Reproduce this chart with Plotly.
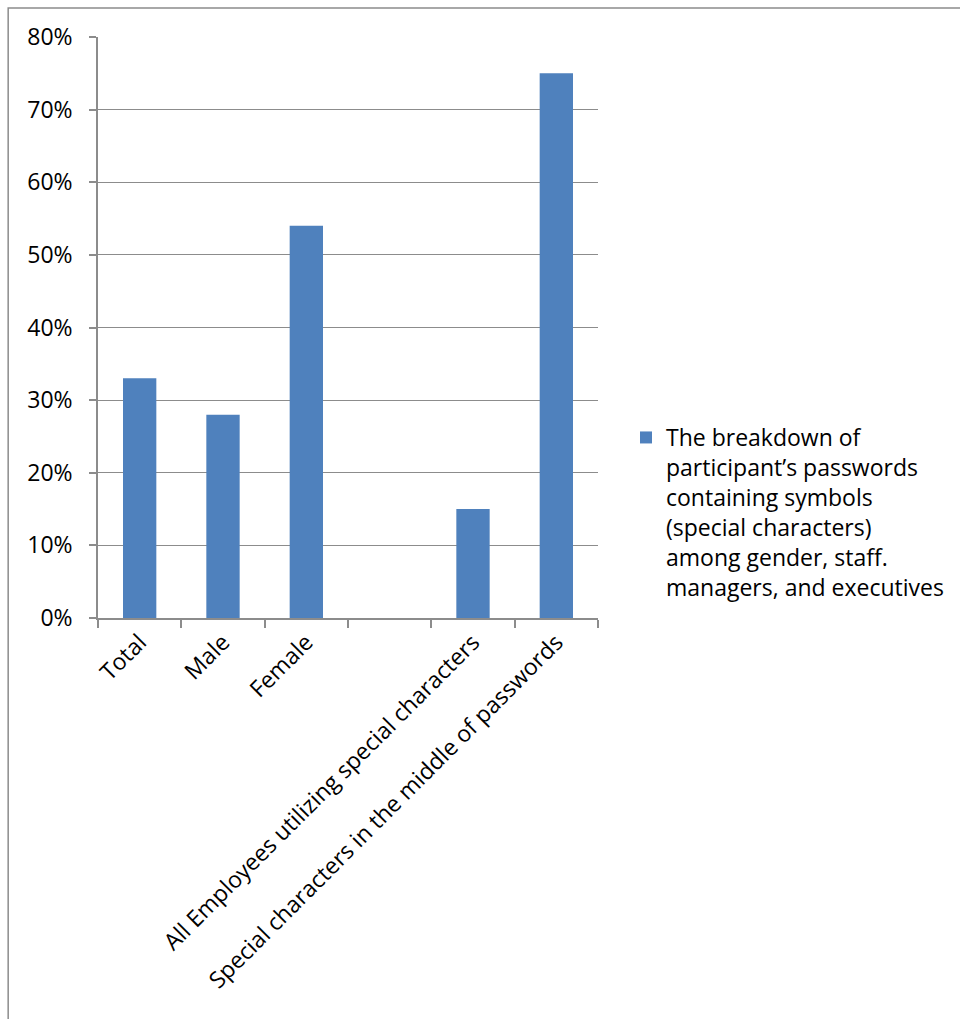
import plotly.graph_objects as go

# Share of passwords containing symbols, by group
categories = [
    "Total",
    "Male",
    "Female",
    " ",
    "All Employees utilizing special characters",
    "Special characters in the middle of passwords",
]
shares = [0.33, 0.28, 0.54, None, 0.15, 0.75]
series_name = ("The breakdown of<br>participant\u2019s passwords<br>containing symbols<br>"
               "(special characters)<br>among gender, staff.<br>managers, and executives")
y_ticks = [0, 0.1, 0.2, 0.3, 0.4, 0.5, 0.6, 0.7, 0.8]

W, H = 960, 1019
L, R, T, B = 98, 599, 37, 618  # plot area in pixels

FONT = "Open Sans"
FS = 23
GRID = "#8c8c8c"

fig = go.Figure(
    go.Bar(
        x=categories,
        y=shares,
        name=series_name,
        marker=dict(color="#4f81bd", line=dict(width=0)),
        showlegend=True,
    )
)

fig.update_layout(
    width=W,
    height=H,
    margin=dict(l=L, r=W - R, t=T, b=H - B, pad=0),
    paper_bgcolor="white",
    plot_bgcolor="white",
    bargap=0.6,
    font=dict(family=FONT, size=FS, color="black"),
    showlegend=True,
    legend=dict(
        x=(626 - L) / (R - L),
        xanchor="left",
        y=(B - 416) / (B - T),
        yanchor="top",
        valign="top",
        font=dict(family=FONT, size=FS, color="black"),
        itemsizing="constant",
        bgcolor="rgba(0,0,0,0)",
    ),
    xaxis=dict(
        type="category",
        categoryorder="array",
        categoryarray=categories,
        tickangle=-45,
        tickson="boundaries",
        ticks="outside",
        ticklen=8,
        tickcolor=GRID,
        tickwidth=1.5,
        showline=True,
        linecolor=GRID,
        linewidth=1.5,
        showgrid=False,
        tickfont=dict(family=FONT, size=FS, color="black"),
    ),
    yaxis=dict(
        range=[0, 0.8],
        tickvals=y_ticks,
        tickformat=".0%",
        ticks="outside",
        ticklen=7,
        tickcolor=GRID,
        tickwidth=1.5,
        showline=True,
        linecolor=GRID,
        linewidth=1.5,
        showgrid=True,
        gridcolor=GRID,
        gridwidth=1,
        zeroline=False,
        ticklabelstandoff=12,
        tickfont=dict(family=FONT, size=FS, color="black"),
    ),
    shapes=[
        # chart frame
        dict(
            type="rect",
            xref="paper",
            yref="paper",
            x0=(8 - L) / (R - L),
            x1=(980 - L) / (R - L),
            y0=(B - 8) / (B - T),
            y1=(B - 1040) / (B - T),
            line=dict(color="#8c8c8c", width=1.5),
            fillcolor="rgba(0,0,0,0)",
            layer="below",
        )
    ],
)

fig.write_html("out.html")
